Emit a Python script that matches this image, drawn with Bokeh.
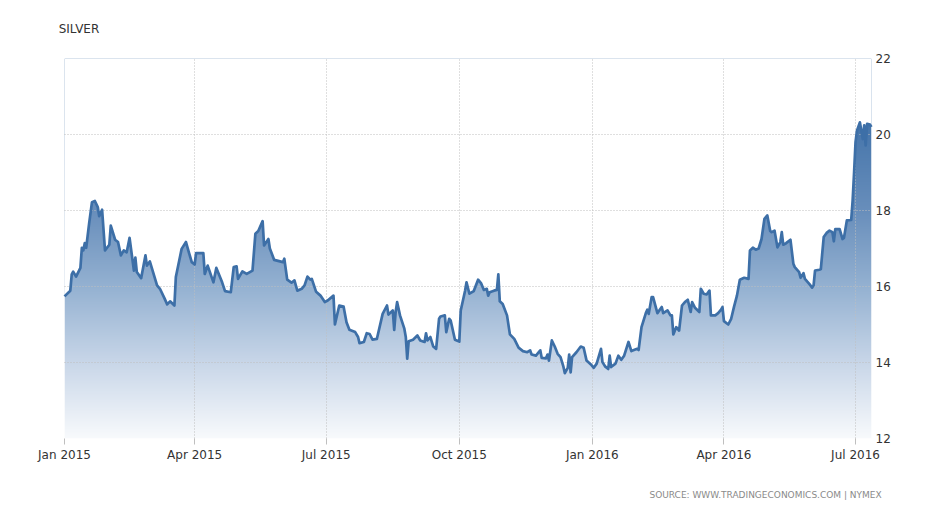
import numpy as np
import pandas as pd
from bokeh.plotting import figure
from bokeh.models import (Range1d, FixedTicker, DatetimeTickFormatter, LinearAxis,
                          CustomJSTickFormatter)
from bokeh.embed import file_html
from bokeh.resources import INLINE

# ---------------- data ----------------
START = "2015-01-01"
END = "2016-07-12"

day_offsets = [
    0, 4, 5, 6, 8, 11, 12, 13, 14, 15, 17, 19, 21, 23, 24, 26, 28, 31, 32, 35,
    37, 39, 41, 43, 45, 48, 49, 50, 53, 56, 57, 59, 64, 66, 69, 71, 73, 76, 77, 81,
    84, 86, 88, 90, 91, 96, 97, 99, 103, 105, 109, 111, 115, 117, 119, 120, 123, 126, 130, 132,
    134, 137, 138, 141, 142, 145, 149, 151, 152, 154, 157, 159, 161, 164, 166, 168, 170, 171, 174, 177,
    180, 182, 186, 187, 190, 193, 195, 197, 201, 203, 204, 207, 209, 211, 213, 216, 220, 223, 224, 227,
    228, 229, 230, 232, 235, 236, 237, 238, 241, 244, 246, 249, 250, 251, 253, 255, 257, 259, 260, 263,
    264, 266, 267, 270, 273, 274, 277, 278, 280, 283, 286, 288, 290, 292, 293, 294, 297, 299, 300, 301,
    303, 306, 308, 311, 314, 317, 320, 322, 323, 326, 329, 330, 333, 334, 335, 337, 339, 341, 343, 345,
    346, 348, 349, 350, 351, 354, 357, 359, 361, 364, 366, 368, 371, 372, 374, 376, 377, 378, 381, 383,
    385, 387, 390, 392, 396, 397, 399, 402, 403, 404, 406, 407, 410, 413, 414, 417, 419, 420, 421, 423,
    425, 427, 429, 431, 433, 434, 436, 439, 440, 442, 444, 446, 447, 450, 452, 454, 455, 456, 459, 461,
    463, 465, 467, 470, 473, 474, 476, 478, 480, 482, 484, 486, 488, 489, 491, 493, 495, 496, 497, 499,
    502, 504, 505, 508, 509, 511, 512, 515, 517, 518, 519, 522, 523, 525, 527, 529, 531, 532, 533, 536,
    538, 539, 541, 544, 545, 546, 547, 548, 550, 552, 553, 554, 555, 557, 558,
]

silver_usd = [
    15.74, 15.89, 16.32, 16.39, 16.26, 16.49, 17.02, 16.95, 17.14, 17.02, 17.65, 18.22, 18.25, 18.09, 17.85, 18.02, 16.95, 17.10, 17.60, 17.23,
    17.17, 16.82, 16.95, 16.90, 17.28, 16.42, 16.76, 16.38, 16.22, 16.82, 16.55, 16.66, 16.03, 15.94, 15.70, 15.53, 15.61, 15.50, 16.25, 16.99,
    17.17, 16.90, 16.64, 16.58, 16.88, 16.88, 16.33, 16.55, 16.11, 16.49, 16.11, 15.88, 15.85, 16.51, 16.53, 16.20, 16.40, 16.33, 16.42, 17.39,
    17.46, 17.72, 17.08, 17.25, 17.00, 16.70, 16.66, 16.64, 16.73, 16.18, 16.10, 16.16, 15.89, 15.94, 16.03, 16.26, 16.18, 16.20, 15.86, 15.76,
    15.59, 15.63, 15.76, 15.00, 15.50, 15.47, 15.06, 14.86, 14.80, 14.67, 14.51, 14.54, 14.77, 14.75, 14.60, 14.62, 15.28, 15.50, 15.26, 15.37,
    14.86, 15.33, 15.59, 15.24, 14.89, 14.67, 14.10, 14.56, 14.60, 14.71, 14.58, 14.54, 14.77, 14.58, 14.67, 14.42, 14.36, 15.15, 15.21, 15.24,
    14.80, 15.15, 15.11, 14.60, 14.55, 15.37, 15.89, 16.11, 15.81, 15.88, 16.18, 16.09, 15.91, 15.94, 15.76, 15.85, 15.89, 15.91, 16.32, 15.61,
    15.54, 15.24, 14.74, 14.62, 14.39, 14.30, 14.27, 14.32, 14.21, 14.18, 14.32, 14.12, 14.11, 14.21, 14.05, 14.58, 14.42, 14.23, 14.14, 13.89,
    13.72, 13.86, 14.21, 13.74, 14.14, 14.27, 14.42, 14.39, 14.05, 13.95, 13.86, 13.97, 14.36, 14.01, 13.89, 13.83, 14.18, 13.88, 13.97, 14.18,
    14.07, 14.18, 14.54, 14.30, 14.36, 14.33, 14.93, 15.30, 15.39, 15.28, 15.72, 15.72, 15.30, 15.46, 15.30, 15.37, 15.24, 15.24, 14.74, 14.93,
    14.84, 15.50, 15.59, 15.65, 15.33, 15.59, 15.44, 15.33, 15.94, 15.81, 15.79, 15.89, 15.24, 15.24, 15.30, 15.39, 15.46, 15.09, 15.00, 15.15,
    15.47, 15.76, 16.18, 16.23, 16.20, 16.95, 17.02, 16.97, 17.00, 17.25, 17.78, 17.87, 17.46, 17.43, 17.47, 17.03, 17.17, 17.43, 17.10, 17.14,
    17.23, 16.60, 16.51, 16.38, 16.23, 16.35, 16.20, 16.07, 15.97, 16.03, 16.42, 16.44, 16.46, 17.30, 17.41, 17.47, 17.43, 17.19, 17.51, 17.51,
    17.25, 17.28, 17.74, 17.75, 18.26, 19.00, 19.80, 20.10, 20.32, 19.88, 20.24, 19.71, 20.28, 20.26, 20.20,
]

x_tick_dates = ["2015-01-01", "2015-04-01", "2015-07-01", "2015-10-01",
                "2016-01-01", "2016-04-01", "2016-07-01"]
x_tick_labels = ["Jan 2015", "Apr 2015", "Jul 2015", "Oct 2015",
                 "Jan 2016", "Apr 2016", "Jul 2016"]
y_ticks = [12, 14, 16, 18, 20, 22]
title_text = "SILVER"
source_text = "SOURCE: WWW.TRADINGECONOMICS.COM | NYMEX"

# ---------------- styling ----------------
FONT = "DejaVu Sans"
LINE_COLOR = "#3d6fa7"
GRID_COLOR = "#bfbfbf"
# vertical gradient of the area fill: colour stops by value
grad_v = [12.0, 14.0, 16.0, 18.0, 20.35]
grad_rgb = [(248, 250, 252), (200, 214, 232), (148, 177, 209), (104, 142, 187), (68, 116, 170)]
# horizontal centres of the title and source texts (positions along the date axis)
TITLE_AT = pd.Timestamp(START) + pd.Timedelta(days=10.0)
SOURCE_AT = pd.Timestamp(START) + pd.Timedelta(days=484.8)

FRAME_H = 380
dates = pd.Timestamp(START) + pd.to_timedelta(day_offsets, unit="D")
x0 = pd.Timestamp(START)
x1 = pd.Timestamp(END) + pd.Timedelta(hours=1)
y0, y1 = 12, 22

p = figure(width=933, height=507, x_axis_type="datetime", y_axis_location="right",
           output_backend="svg", toolbar_location=None,
           x_range=Range1d(x0, x1), y_range=Range1d(y0, y1),
           min_border_left=64, min_border_right=62, min_border_top=58, min_border_bottom=69)
p.background_fill_color = "white"
p.border_fill_color = "white"
p.outline_line_color = None

# gradient image covering the plot area (one row per pixel)
rows = FRAME_H
row_vals = y0 + (np.arange(rows) + 0.5) * (y1 - y0) / rows
rgb = np.array(grad_rgb, dtype=float)
img = np.zeros((rows, 1), dtype=np.uint32)
view = img.view(dtype=np.uint8).reshape((rows, 1, 4))
for c in range(3):
    view[:, 0, c] = np.round(np.interp(row_vals, grad_v, rgb[:, c])).astype(np.uint8)
view[:, 0, 3] = 255
p.image_rgba(image=[img], x=x0, y=y0, dw=(x1 - x0).total_seconds() * 1000.0, dh=y1 - y0)

# hide the gradient above the series with white
p.varea(x=dates, y1=silver_usd, y2=np.full(len(silver_usd), float(y1)),
        fill_color="white", fill_alpha=1.0)

# line
r = p.line(x=dates, y=silver_usd, line_color=LINE_COLOR, line_width=2.7, line_join="round")
r.level = "overlay"

tick_ms = [pd.Timestamp(d).value / 1e6 for d in x_tick_dates]

# main x axis
xa = p.xaxis[0]
xa.ticker = FixedTicker(ticks=tick_ms)
xa.formatter = DatetimeTickFormatter(days="%b %Y", months="%b %Y", years="%b %Y",
                                     hours="%b %Y", minutes="%b %Y")
xa.axis_line_color = None
xa.major_tick_line_color = GRID_COLOR
xa.major_tick_out = 6
xa.major_tick_in = 0
xa.minor_tick_line_color = None
xa.major_label_standoff = 3
xa.major_label_text_font = FONT
xa.major_label_text_font_size = "12px"
xa.major_label_text_color = "#333333"

# y axis (right)
ya = p.yaxis[0]
ya.ticker = FixedTicker(ticks=y_ticks)
ya.axis_line_color = None
ya.major_tick_line_color = None
ya.minor_tick_line_color = None
ya.major_tick_out = 0
ya.major_tick_in = 0
ya.major_label_standoff = 4
ya.major_label_text_font = FONT
ya.major_label_text_font_size = "12px"
ya.major_label_text_color = "#333333"

# grids
p.xgrid.ticker = FixedTicker(ticks=tick_ms)
p.ygrid.ticker = FixedTicker(ticks=y_ticks)
for g in (p.xgrid, p.ygrid):
    g.grid_line_color = GRID_COLOR
    g.grid_line_dash = "1 2"
    g.grid_line_width = 1
    g.level = "annotation"


def text_axis(at, text, size, color, standoff):
    ax = LinearAxis(ticker=FixedTicker(ticks=[at.value / 1e6]),
                    formatter=CustomJSTickFormatter(args=dict(t=text), code="return t"))
    ax.axis_line_color = None
    ax.major_tick_line_color = None
    ax.minor_tick_line_color = None
    ax.major_tick_out = 0
    ax.major_tick_in = 0
    ax.major_label_standoff = standoff
    ax.major_label_text_font = FONT
    ax.major_label_text_font_size = size
    ax.major_label_text_color = color
    return ax


# title (above the plot) and source line (below the date labels)
p.add_layout(text_axis(TITLE_AT, title_text, "12px", "#333333", 23), "above")
p.add_layout(text_axis(SOURCE_AT, source_text, "9px", "#8a8a8a", 25), "below")

open("out.html", "w").write(file_html(p, INLINE))
